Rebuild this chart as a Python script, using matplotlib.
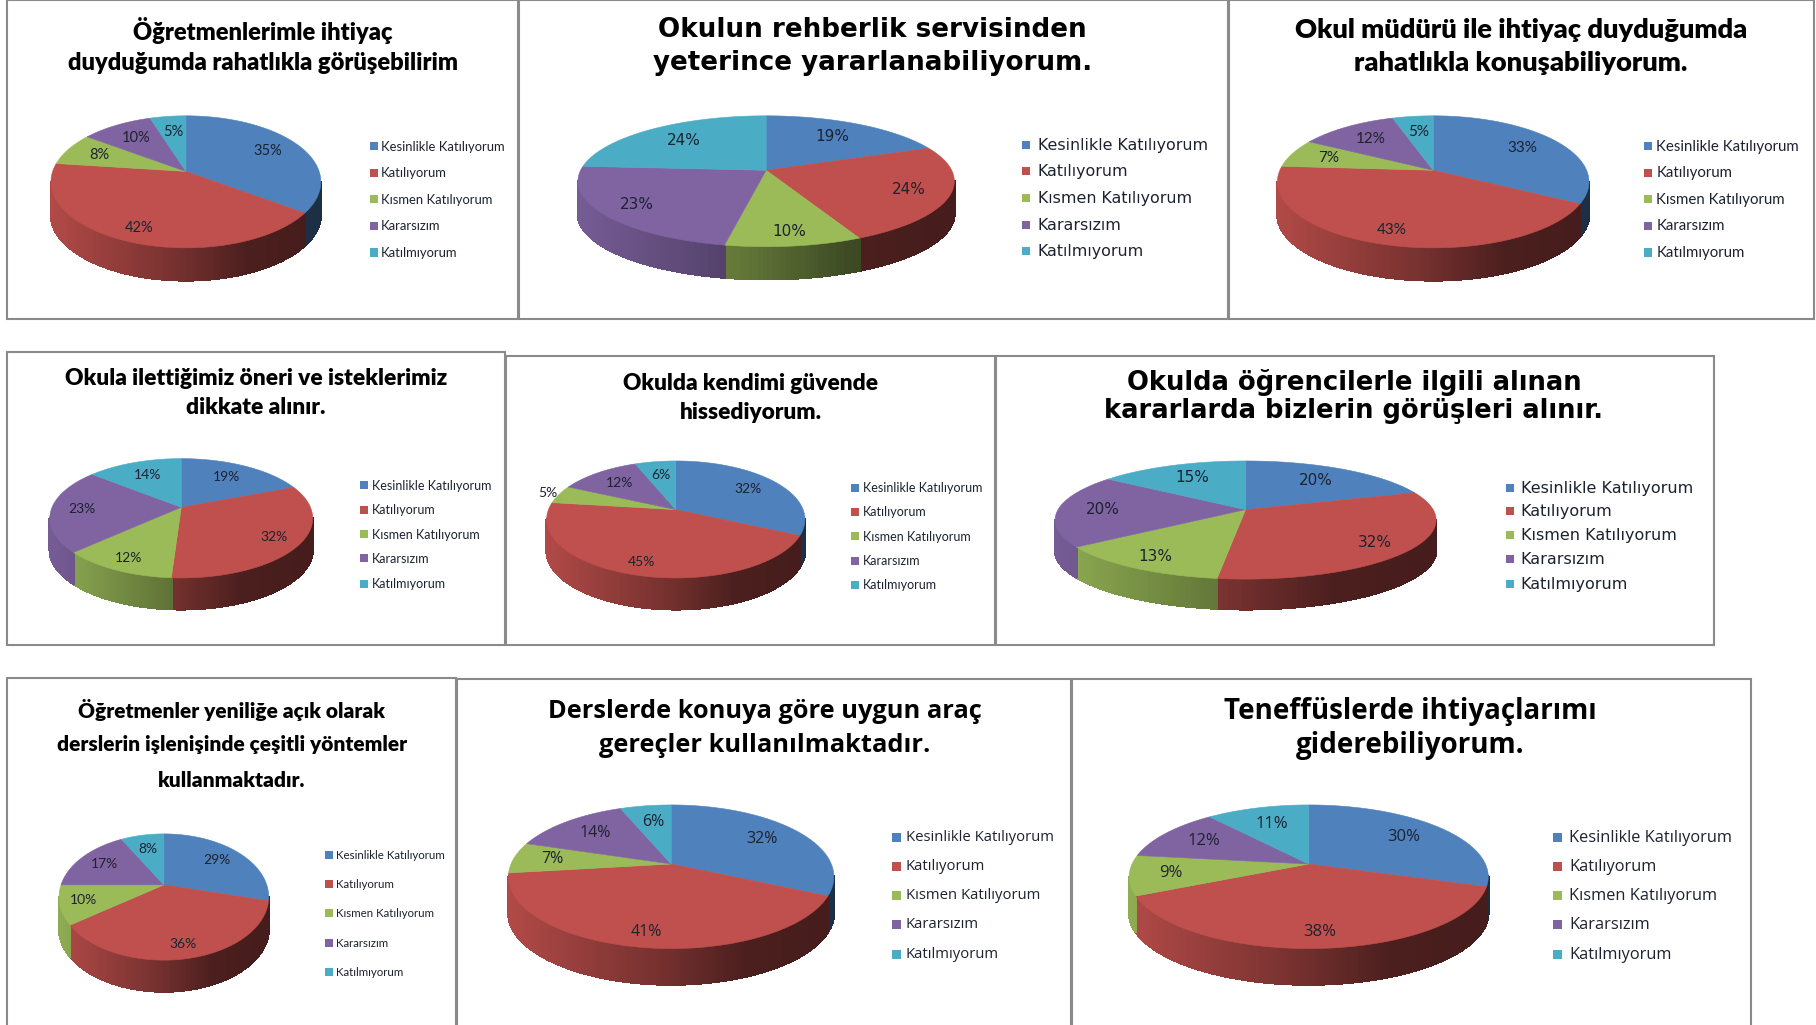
import numpy as np
import matplotlib
matplotlib.use("Agg")
import matplotlib.pyplot as plt
from matplotlib.collections import PolyCollection
from matplotlib.patches import Rectangle, Polygon
from matplotlib.colors import to_rgb

categories = ["Kesinlikle Katılıyorum", "Katılıyorum", "Kısmen Katılıyorum", "Kararsızım", "Katılmıyorum"]
colors = ["#4F81BD", "#C0504D", "#9BBB59", "#8064A2", "#4BACC6"]

values_1 = [35, 42, 8, 10, 5]
values_2 = [19, 24, 10, 23, 24]
values_3 = [33, 43, 7, 12, 5]
values_4 = [19, 32, 12, 23, 14]
values_5 = [32, 45, 5, 12, 6]
values_6 = [20, 32, 13, 20, 15]
values_7 = [29, 36, 10, 17, 8]
values_8 = [32, 41, 7, 14, 6]
values_9 = [30, 38, 9, 12, 11]

title_1 = ["Öğretmenlerimle ihtiyaç", "duyduğumda rahatlıkla görüşebilirim"]
title_2 = ["Okulun rehberlik servisinden", "yeterince yararlanabiliyorum."]
title_3 = ["Okul müdürü ile ihtiyaç duyduğumda", "rahatlıkla konuşabiliyorum."]
title_4 = ["Okula ilettiğimiz öneri ve isteklerimiz", "dikkate alınır."]
title_5 = ["Okulda kendimi güvende", "hissediyorum."]
title_6 = ["Okulda öğrencilerle ilgili alınan", "kararlarda bizlerin görüşleri alınır."]
title_7 = ["Öğretmenler yeniliğe açık olarak", "derslerin işlenişinde çeşitli yöntemler", "kullanmaktadır."]
title_8 = ["Derslerde konuya göre uygun araç", "gereçler kullanılmaktadır."]
title_9 = ["Teneffüslerde ihtiyaçlarımı", "giderebiliyorum."]

W, H = 1568, 885
LATO = ["Lato", "DejaVu Sans"]
WIDE = ["DejaVu Sans"]
OPEN = ["Open Sans", "DejaVu Sans"]

fig = plt.figure(figsize=(18.16, 10.25), dpi=100, facecolor="white")
ax = fig.add_axes([0, 0, 1, 1])
ax.set_xlim(0, W)
ax.set_ylim(H, 0)
ax.axis("off")

XF = [-1.0, -0.1, 0.45, 1.0]
FF = [0.92, 0.62, 0.39, 0.36]


def project(theta, r, cx, apex, A, b, k):
    u, v = r * np.sin(theta), r * np.cos(theta)
    w = 1 + k * v
    return cx + A * u / w, apex - b * v / w


def pie3d(vals, left, right, top, bot, apex, depth, lab_font, lab_size, outside=()):
    cx = (left + right) / 2
    rx = (right - left) / 2
    T, B = apex - top, bot - apex
    q = T / B
    k = (1 - q) / (1 + q)
    A = rx * np.sqrt(1 - k * k)
    b = T * (1 + k)
    fr = np.cumsum([0] + list(vals)) / sum(vals) * 2 * np.pi
    front_a = np.arccos(-k)
    front_b = 2 * np.pi - front_a
    quads, qcol = [], []
    for i, c in enumerate(colors):
        a0, a1 = max(fr[i], front_a), min(fr[i + 1], front_b)
        if a1 > a0:
            th = np.linspace(a0, a1, max(3, int((a1 - a0) * 50)))
            x, y = project(th, 1, cx, apex, A, b, k)
            base = np.array(to_rgb(c))
            for j in range(len(th) - 1):
                quads.append([(x[j], y[j]), (x[j + 1], y[j + 1]),
                              (x[j + 1], y[j + 1] + depth), (x[j], y[j] + depth)])
                xm = (0.5 * (x[j] + x[j + 1]) - cx) / rx
                qcol.append(base * np.interp(xm, XF, FF))
    ax.add_collection(PolyCollection(quads, facecolors=qcol, edgecolors=qcol, linewidths=1.2,
                                     antialiaseds=False, zorder=2))
    for i, c in enumerate(colors):
        th = np.linspace(fr[i], fr[i + 1], 120)
        x, y = project(th, 1, cx, apex, A, b, k)
        pts = np.column_stack([np.r_[cx, x], np.r_[apex, y]])
        ax.add_patch(Polygon(pts, closed=True, facecolor=c, edgecolor=c, linewidth=0.4, zorder=3))
        mid = 0.5 * (fr[i] + fr[i + 1])
        r = 1.1 if i in outside else 0.76 - 0.08 * np.cos(mid)
        lx, ly = project(mid, r, cx, apex, A, b, k)
        ax.text(lx, ly, f"{vals[i]}%", ha="center", va="center", fontsize=lab_size,
                family=lab_font, color="#1d2230", zorder=5)


def panel(x0, x1, y0, y1):
    ax.add_patch(Rectangle((x0, y0), x1 - x0, y1 - y0, facecolor="white",
                           edgecolor="#8a8a8a", linewidth=1.5, zorder=1))


def titles(lines, cx, ys, font, size, weight="heavy"):
    for t, y in zip(lines, ys):
        ax.text(cx, y + 1, t, ha="center", va="center", fontsize=size, family=font,
                fontweight=weight, color="black", zorder=5)


def legend(mx, tx, ys, font, size, box=7):
    for name, c, y in zip(categories, colors, ys):
        ax.add_patch(Rectangle((mx - box / 2, y - box / 2), box, box, facecolor=c,
                               edgecolor="none", zorder=4))
        ax.text(tx, y + 0.5, name, ha="left", va="center", fontsize=size, family=font,
                color="#1d2230", zorder=5)


panel(6, 447, 0, 275)
panel(448, 1060, 0, 275)
panel(1061, 1566, 0, 275)
panel(6, 436, 304, 557)
panel(437, 859, 307, 557)
panel(860, 1480, 307, 557)
panel(6, 394, 585, 900)
panel(395, 925, 586, 900)
panel(926, 1512, 586, 900)

pie3d(values_1, 44, 277, 100, 214, 148, 28, LATO, 10.5)
pie3d(values_2, 499, 824, 100, 213, 147, 28, WIDE, 11)
pie3d(values_3, 1103, 1372, 100, 214, 147, 28, LATO, 11)
pie3d(values_4, 43, 270, 396, 499, 438, 27, LATO, 10)
pie3d(values_5, 472, 695, 398, 499, 440, 27, LATO, 10, outside=(2,))
pie3d(values_6, 911, 1240, 398, 500, 440, 26, WIDE, 11)
pie3d(values_7, 51, 232, 720, 829, 764, 27, LATO, 10)
pie3d(values_8, 439, 720, 695, 819, 746, 31, OPEN, 11.5)
pie3d(values_9, 975, 1285, 695, 819, 746, 31, OPEN, 12)

titles(title_1, 227, [25, 53], LATO, 17.05)
titles(title_2, 753, [25, 53], WIDE, 18.8, "bold")
titles(title_3, 1313, [25, 53], LATO, 19.6)
titles(title_4, 221, [326, 351], LATO, 16.4)
titles(title_5, 648, [330, 355], LATO, 16.3)
titles(title_6, 1169, [329, 354], WIDE, 18.6, "bold")
titles(title_7, 200, [612, 642, 673], LATO, 15)
titles(title_8, 660, [613, 643], OPEN, 18.3, "bold")
titles(title_9, 1218, [613, 643], OPEN, 20, "bold")

legend(323, 329, [126, 149, 172, 195, 218], LATO, 9.4)
legend(886, 896, [125, 148, 171, 194, 217], WIDE, 11.4)
legend(1423, 1430, [126, 149, 172, 195, 218], LATO, 10.8)
legend(314, 321, [419, 440, 461, 482, 504], LATO, 9)
legend(738, 745, [421, 442, 463, 484, 505], LATO, 9)
legend(1304, 1313, [421, 441, 462, 483, 504], WIDE, 11.5)
legend(284, 290, [738, 763, 788, 814, 839], LATO, 8.3)
legend(774, 782, [723, 748, 773, 798, 824], OPEN, 10.7, box=8)
legend(1345, 1355, [723, 748, 773, 798, 824], OPEN, 11.8, box=8)

fig.savefig("out.png", dpi=100, facecolor="white")
